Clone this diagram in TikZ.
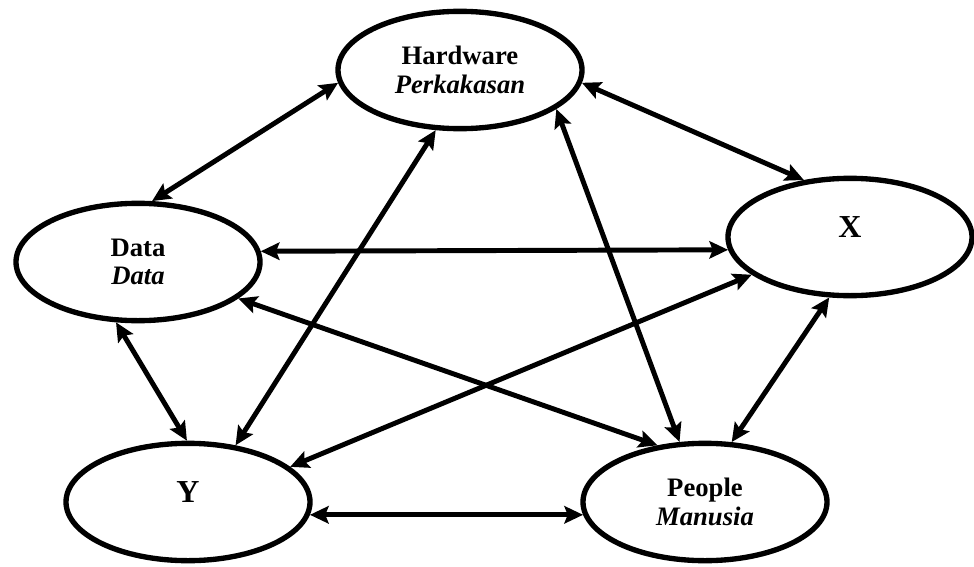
\documentclass[tikz,border=0pt]{standalone}
\usepackage{fontspec}
\setmainfont{Liberation Serif}
\usetikzlibrary{arrows.meta, positioning, shapes.geometric}

\tikzset{
  part/.style={ellipse, draw, line width=4pt, minimum width=183pt, minimum height=88pt,
    inner sep=0pt, align=center, font=\fontsize{20}{21.5}\selectfont\bfseries},
  single/.style={part, font=\fontsize{24}{26}\selectfont\bfseries, text height=8pt, text depth=8pt},
  link/.style={line width=3.7pt, {Stealth[length=14pt,width=13pt,inset=2.5pt]}-{Stealth[length=14pt,width=13pt,inset=2.5pt]}}
}

\begin{document}
\begin{tikzpicture}[x=0.75pt, y=-0.75pt]
\useasboundingbox (0,0) rectangle (974,567);

\node [part] (hw) at (460,70) {Hardware\\\textit{Perkakasan}};
\node [part] (data) at (138,262) {Data\\\textit{Data}};
\node [single] (x) at (850,237) {X};
\node [single] (y) at (188,502) {Y};
\node [part] (people) at (705,502) {People\\\textit{Manusia}};

\foreach \a/\b in {hw.186/data.77, hw.-6/x.129, hw.248/y.50, hw.-22/people.113,
  data.5.5/x.186, data.-20/people.130, data.250/y.91, x.201/y.19,
  x.251/people.66, y.-6.4/people.186.5}
{
  \draw [link] (\a) -- (\b);
}
\end{tikzpicture}
\end{document}
